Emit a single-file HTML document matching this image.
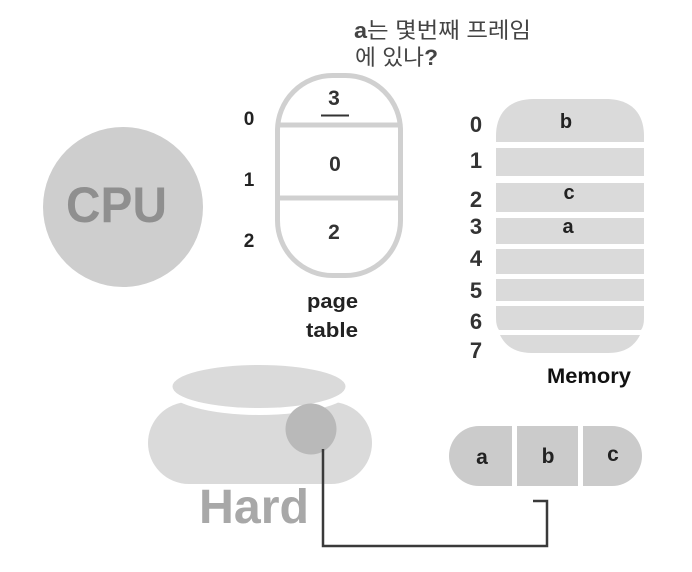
<!DOCTYPE html>
<html>
<head>
<meta charset="utf-8">
<style>
html,body{margin:0;padding:0;background:#fff;width:692px;height:572px;overflow:hidden}
svg{display:block;filter:blur(0.35px)}
text{font-family:"Liberation Sans","Noto Sans CJK KR",sans-serif;font-weight:bold;fill:#222}
</style>
</head>
<body>
<svg width="692" height="572" viewBox="0 0 692 572" xmlns="http://www.w3.org/2000/svg">
<rect width="692" height="572" fill="#fff"/>

<!-- CPU -->
<circle cx="123" cy="207" r="80" fill="#cecece"/>
<text x="66" y="222" font-size="50" textLength="101" lengthAdjust="spacingAndGlyphs" style="fill:#8f8f8f">CPU</text>

<!-- Question -->
<text x="354" y="38" font-size="22" textLength="177" lengthAdjust="spacingAndGlyphs" style="fill:#444">a<tspan style="font-weight:400">는 몇번째 프레임</tspan></text>
<text x="355" y="65" font-size="22" textLength="83" lengthAdjust="spacingAndGlyphs" style="fill:#444"><tspan style="font-weight:400">에 있나</tspan>?</text>

<!-- Page table -->
<rect x="277.5" y="75.5" width="123" height="200" rx="55" ry="55" fill="#fff" stroke="#d0d0d0" stroke-width="5"/>
<line x1="277" y1="125" x2="401" y2="125" stroke="#d0d0d0" stroke-width="5"/>
<line x1="277" y1="198" x2="401" y2="198" stroke="#d0d0d0" stroke-width="5"/>
<text x="334" y="105" font-size="21" text-anchor="middle" style="fill:#333">3</text>
<line x1="321" y1="115.5" x2="349" y2="115.5" stroke="#333" stroke-width="2"/>
<text x="335" y="171" font-size="21" text-anchor="middle" style="fill:#333">0</text>
<text x="334" y="239" font-size="21" text-anchor="middle" style="fill:#333">2</text>
<text x="249" y="125" font-size="19" text-anchor="middle">0</text>
<text x="249" y="186" font-size="19" text-anchor="middle">1</text>
<text x="249" y="247" font-size="19" text-anchor="middle">2</text>
<text x="307" y="308" font-size="20" textLength="51" lengthAdjust="spacingAndGlyphs">page</text>
<text x="306" y="337" font-size="20" textLength="52" lengthAdjust="spacingAndGlyphs">table</text>

<!-- Memory -->
<path d="M496 142V136C496 112 510 99 534 99H606C630 99 644 112 644 136V142Z" fill="#dadada"/>
<rect x="496" y="148" width="148" height="28" fill="#dadada"/>
<rect x="496" y="183" width="148" height="29" fill="#dadada"/>
<rect x="496" y="218" width="148" height="26" fill="#dadada"/>
<rect x="496" y="249" width="148" height="25" fill="#dadada"/>
<rect x="496" y="279" width="148" height="22" fill="#dadada"/>
<path d="M496 306H644V318Q644 326 641 330H499Q496 326 496 318Z" fill="#dadada"/>
<path d="M500 335H640C634 347 624 353 608 353H532C516 353 506 347 500 335Z" fill="#dadada"/>
<text x="566" y="128" font-size="20" text-anchor="middle">b</text>
<text x="569" y="199" font-size="20" text-anchor="middle">c</text>
<text x="568" y="233" font-size="20" text-anchor="middle">a</text>
<g font-size="22" text-anchor="middle">
<text x="476" y="132" style="fill:#333">0</text>
<text x="476" y="168" style="fill:#333">1</text>
<text x="476" y="207" style="fill:#333">2</text>
<text x="476" y="234" style="fill:#333">3</text>
<text x="476" y="266" style="fill:#333">4</text>
<text x="476" y="298" style="fill:#333">5</text>
<text x="476" y="329" style="fill:#333">6</text>
<text x="476" y="358" style="fill:#333">7</text>
</g>
<text x="547" y="383" font-size="21" textLength="84" lengthAdjust="spacingAndGlyphs" style="fill:#111">Memory</text>

<!-- Hard disk -->
<rect x="148" y="402" width="224" height="82" rx="41" ry="41" fill="#dadada"/>
<ellipse cx="259.5" cy="389" rx="92" ry="26" fill="#fff"/>
<ellipse cx="259" cy="386.5" rx="86.5" ry="21.5" fill="#dadada"/>
<circle cx="311" cy="429" r="25.5" fill="#b9b9b9"/>
<text x="199" y="523" font-size="48" textLength="110" lengthAdjust="spacingAndGlyphs" style="fill:#a8a8a8">Hard</text>

<!-- Pill -->
<path d="M512 426V486H479A30 30 0 0 1 479 426Z" fill="#cbcbcb"/>
<rect x="517" y="426" width="61" height="60" fill="#cbcbcb"/>
<path d="M583 426V486H612A30 30 0 0 0 612 426Z" fill="#cbcbcb"/>
<text x="482" y="464" font-size="21" text-anchor="middle">a</text>
<text x="548" y="463" font-size="21" text-anchor="middle">b</text>
<text x="613" y="461" font-size="21" text-anchor="middle">c</text>

<!-- Connector -->
<polyline points="323,449 323,546 547,546 547,501 533,501" fill="none" stroke="#3a3a3a" stroke-width="2.5"/>
</svg>
</body>
</html>
